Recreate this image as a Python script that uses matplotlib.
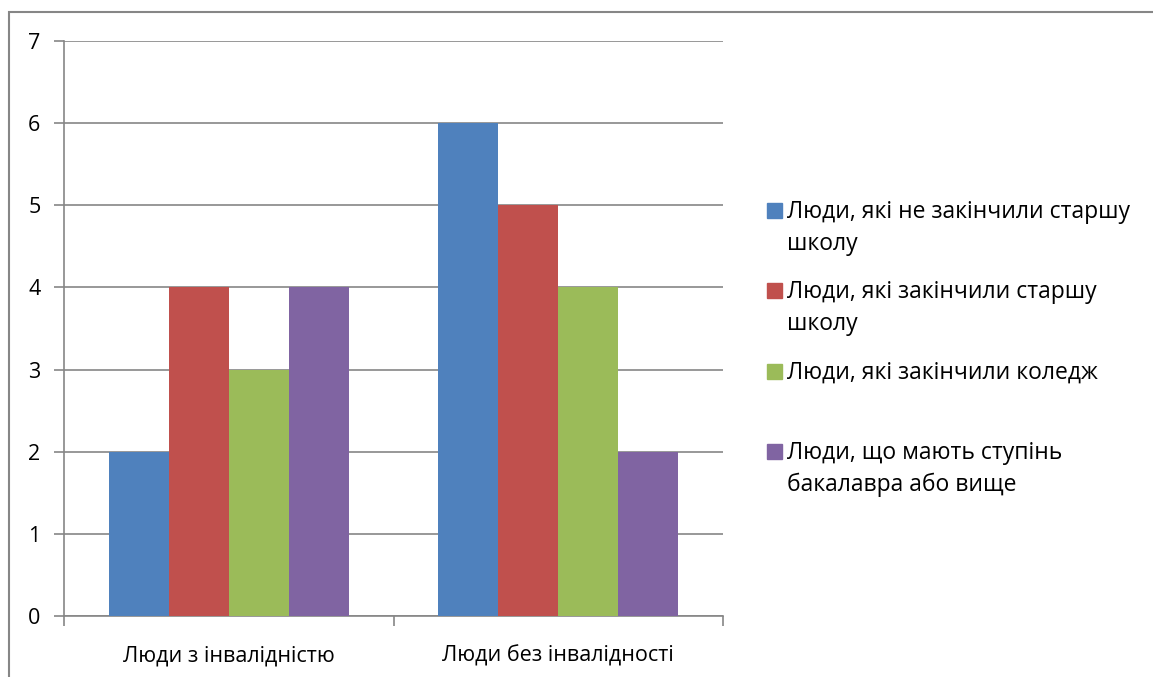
import numpy as np
import matplotlib.pyplot as plt
from matplotlib.patches import Rectangle

plt.rcParams['font.family'] = ['Open Sans', 'DejaVu Sans']

# Chart data
categories = ["Люди з інвалідністю", "Люди без інвалідності"]
series_names = [
    "Люди, які не закінчили старшу\nшколу",
    "Люди, які закінчили старшу\nшколу",
    "Люди, які закінчили коледж",
    "Люди, що мають ступінь\nбакалавра або вище",
]
no_high_school = [2, 6]
high_school = [4, 5]
college = [3, 4]
bachelor = [4, 2]
series_values = [no_high_school, high_school, college, bachelor]
colors = ["#4F81BD", "#C0504D", "#9BBB59", "#8064A2"]
y_ticks = [0, 1, 2, 3, 4, 5, 6, 7]

W, H = 1153, 677
GRID = "#868686"

fig = plt.figure(figsize=(W / 100, H / 100), dpi=100)
ax = fig.add_axes([64 / W, 1 - 616 / H, (723 - 64) / W, (616 - 41) / H])

x = np.arange(len(categories))
width = 0.182
for i, (vals, col) in enumerate(zip(series_values, colors)):
    ax.bar(x + (i - 1.5) * width, vals, width, color=col, zorder=3)

ax.set_xlim(-0.5, 1.5)
ax.set_ylim(0, 7)
ax.set_yticks(y_ticks)
ax.yaxis.grid(True, color=GRID, linewidth=1.2, zorder=0)
ax.tick_params(axis='y', length=7, width=1.2, color=GRID, pad=10, labelsize=15.5)
ax.set_xticks(x)
ax.set_xticklabels(categories)
ax.set_xticks([-0.5, 0.5, 1.5], minor=True)
ax.tick_params(axis='x', which='major', length=0, pad=21, labelsize=15.5)
ax.tick_params(axis='x', which='minor', length=7, width=1.2, color=GRID)
for s in ['top', 'right']:
    ax.spines[s].set_visible(False)
for s in ['left', 'bottom']:
    ax.spines[s].set_color(GRID)
    ax.spines[s].set_linewidth(1.2)

# legend drawn by hand so each entry sits in an equal slot,
# swatch lined up with the first text line
legend_baselines = [218, 298, 379, 459]
line_step = 32
for name, col, base in zip(series_names, colors, legend_baselines):
    fig.patches.append(Rectangle((767 / W, 1 - base / H), 15 / W, 15 / H,
                                 transform=fig.transFigure, color=col))
    for k, line in enumerate(name.split("\n")):
        fig.text(787 / W, 1 - (base + k * line_step) / H, line,
                 va='baseline', ha='left', fontsize=16.5)

# outer chart frame
fig.patches.append(Rectangle((9 / W, -0.05), 1.1, 1 - 12 / H + 0.05,
                             transform=fig.transFigure, fill=False,
                             edgecolor=GRID, linewidth=1.5))

fig.savefig("out.png", dpi=100)
